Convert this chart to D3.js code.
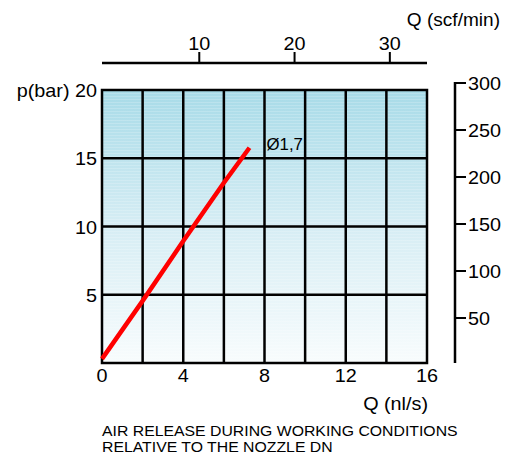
<!DOCTYPE html>
<html><head><meta charset="utf-8">
<script src="https://cdn.jsdelivr.net/npm/d3@7"></script>
<style>
body{margin:0;background:#fff;}
svg{display:block;font-family:"Liberation Sans",Arial,sans-serif;}
</style></head>
<body><svg id="c" width="518" height="459"></svg>
<script>
// Data
const flowNl = [0, 2, 4, 6, 7.26];          // Q (nl/s)
const pressureBar = [0.3, 4.55, 8.93, 13.2, 15.77]; // p (bar)
const seriesLabel = "Ø1,7";
const xTicks = [0, 4, 8, 12, 16];
const xGrid = [2, 4, 6, 8, 10, 12, 14];
const yTicks = [5, 10, 15, 20];
const topTicks = [10, 20, 30];
const rightTicks = [50, 100, 150, 200, 250, 300];
const caption = ["AIR RELEASE DURING WORKING CONDITIONS", "RELATIVE TO THE NOZZLE DN"];

const svg = d3.select("#c");
const x = d3.scaleLinear([0, 16], [102, 427]);
const y = d3.scaleLinear([0, 20], [363, 90]);
const xTop = d3.scaleLinear([0, 33.9], [104, 427]);
const yRight = d3.scaleLinear([0, 300], [365, 83]);

// helper: text slightly widened horizontally like the reference
function label(parent, tx, ty, str, size, anchor, sx) {
  return parent.append("text")
    .attr("transform", `translate(${tx},${ty}) scale(${sx || 1.1},1)`)
    .attr("text-anchor", anchor || "start")
    .attr("font-size", size).attr("fill", "#000").text(str);
}

// gradient background
const defs = svg.append("defs");
const g = defs.append("linearGradient").attr("id", "bg").attr("x1", 0).attr("y1", 0).attr("x2", 0).attr("y2", 1);
g.append("stop").attr("offset", "0%").attr("stop-color", "#a8dbe8");
g.append("stop").attr("offset", "50%").attr("stop-color", "#d6edf4");
g.append("stop").attr("offset", "100%").attr("stop-color", "#f8fcfd");
const pat = defs.append("pattern").attr("id", "stripes").attr("patternUnits", "userSpaceOnUse")
  .attr("width", 8).attr("height", 3);
pat.append("rect").attr("width", 8).attr("height", 1).attr("fill", "#ffffff").attr("opacity", 0.18);

svg.append("rect").attr("x", x(0)).attr("y", y(20)).attr("width", x(16) - x(0)).attr("height", y(0) - y(20)).attr("fill", "url(#bg)");
svg.append("rect").attr("x", x(0)).attr("y", y(20)).attr("width", x(16) - x(0)).attr("height", y(0) - y(20)).attr("fill", "url(#stripes)");

// grid
const grid = svg.append("g").attr("stroke", "#000").attr("stroke-width", 2.5);
grid.selectAll(".v").data(xGrid).join("line").attr("class", "v").attr("x1", d => x(d)).attr("x2", d => x(d)).attr("y1", y(0)).attr("y2", y(20));
grid.selectAll(".h").data(yTicks.filter(d => d < 20)).join("line").attr("class", "h").attr("x1", x(0)).attr("x2", x(16)).attr("y1", d => y(d)).attr("y2", d => y(d));
svg.append("rect").attr("x", x(0)).attr("y", y(20)).attr("width", x(16) - x(0)).attr("height", y(0) - y(20))
  .attr("fill", "none").attr("stroke", "#000").attr("stroke-width", 2.5);

// line
const pts = flowNl.map((d, i) => [d, pressureBar[i]]);
svg.append("path").attr("d", d3.line().x(d => x(d[0])).y(d => y(d[1]))(pts))
  .attr("fill", "none").attr("stroke", "#ff0000").attr("stroke-width", 4.5);
label(svg, x(8.1), y(15.6), seriesLabel, 16, "start", 1.05);

// bottom axis labels
xTicks.forEach(d => label(svg, x(d), 382, d, 18, "middle"));
label(svg, 428, 410, "Q (nl/s)", 18, "end");

// left axis labels
yTicks.forEach(d => label(svg, 97, y(d) + 7, d === 20 ? "p(bar) 20" : d, 18, "end"));

// top axis
const topAx = svg.append("g");
topAx.append("line").attr("x1", 102).attr("x2", 427).attr("y1", 63).attr("y2", 63).attr("stroke", "#000").attr("stroke-width", 2.5);
topAx.selectAll("line.t").data(topTicks).join("line").attr("class", "t").attr("x1", d => xTop(d)).attr("x2", d => xTop(d))
  .attr("y1", 63).attr("y2", 52).attr("stroke", "#000").attr("stroke-width", 2);
topTicks.forEach(d => label(topAx, xTop(d), 50, d, 18, "middle"));
label(svg, 500, 26, "Q (scf/min)", 18, "end", 1.06);

// right axis
const rAx = svg.append("g");
rAx.append("line").attr("x1", 455).attr("x2", 455).attr("y1", yRight(300) - 1).attr("y2", 363).attr("stroke", "#000").attr("stroke-width", 2.5);
rAx.selectAll("line.t").data(rightTicks).join("line").attr("class", "t").attr("x1", 455).attr("x2", 466)
  .attr("y1", d => yRight(d)).attr("y2", d => yRight(d)).attr("stroke", "#000").attr("stroke-width", 2);
rightTicks.forEach(d => label(rAx, 468, yRight(d) + 7, d, 18, "start"));

// caption
caption.forEach((d, i) => label(svg, 102, 436 + i * 16, d, 14, "start", 1.13));
</script></body></html>
